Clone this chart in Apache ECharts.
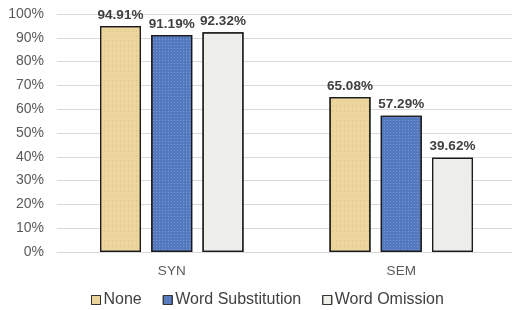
<!DOCTYPE html>
<html><head><meta charset="utf-8">
<script src="https://cdn.jsdelivr.net/npm/echarts@6/dist/echarts.min.js"></script>
<style>html,body{margin:0;padding:0;background:#fff}#c{width:512px;height:310px}</style>
</head><body><div id="c"></div>
<script>
const categories = ['SYN', 'SEM'];
const seriesNames = ['None', 'Word Substitution', 'Word Omission'];
const noneValues = [94.91, 65.08];
const substitutionValues = [91.19, 57.29];
const omissionValues = [92.32, 39.62];
const yTicks = [0, 10, 20, 30, 40, 50, 60, 70, 80, 90, 100];

const colors = ['#ECD69E', '#5579BE', '#EEEEEB'];
const decals = [
  {symbol: 'rect', color: 'rgba(190,160,90,0.22)', dashArrayX: [1, 3], dashArrayY: [2, 3], symbolSize: 1, rotation: 0},
  {symbol: 'rect', color: 'rgba(200,215,245,0.35)', dashArrayX: [1, 2], dashArrayY: [1, 2], symbolSize: 1, rotation: 0},
  {symbol: 'circle', color: 'rgba(170,170,165,0.35)', dashArrayX: [1, 3], dashArrayY: [1, 3], symbolSize: 0.8, rotation: 0.5}
];
const values = [noneValues, substitutionValues, omissionValues];

const chart = echarts.init(document.getElementById('c'), null, {renderer: 'canvas'});
chart.setOption({
  animation: false,
  aria: {enabled: true, decal: {show: true}},
  textStyle: {fontFamily: 'Liberation Sans, Arial, sans-serif'},
  grid: {left: 57, width: 459, top: 14, bottom: 58, containLabel: false, outerBoundsMode: 'none'},
  legend: {
    top: 292, left: 91, padding: 0, itemWidth: 9, itemHeight: 9, itemGap: 21,
    icon: 'rect',
    itemStyle: {borderColor: '#333', borderWidth: 1},
    textStyle: {color: '#404040', fontSize: 16, padding: [0, 0, 0, -2]},
    data: seriesNames
  },
  xAxis: {
    type: 'category', data: categories,
    axisLine: {lineStyle: {color: '#d9d9d9'}},
    axisTick: {show: false},
    axisLabel: {color: '#595959', fontSize: 13.5, margin: 12}
  },
  yAxis: {
    type: 'value', min: 0, max: 100, interval: 10,
    axisLabel: {color: '#595959', fontSize: 14, margin: 13, formatter: v => v + '%'},
    splitLine: {lineStyle: {color: '#d9d9d9'}},
    axisLine: {show: false}, axisTick: {show: false}
  },
  series: seriesNames.map((n, i) => ({
    name: n, type: 'bar', data: values[i],
    barWidth: 41, barGap: '25%',
    itemStyle: {color: colors[i], borderColor: '#1a1a1a', borderWidth: 1.2, decal: decals[i]},
    label: {show: true, position: 'top', distance: 4, color: '#404040', fontWeight: 'bold', fontSize: 13.5,
      formatter: p => p.value.toFixed(2) + '%'}
  }))
});
</script></body></html>
